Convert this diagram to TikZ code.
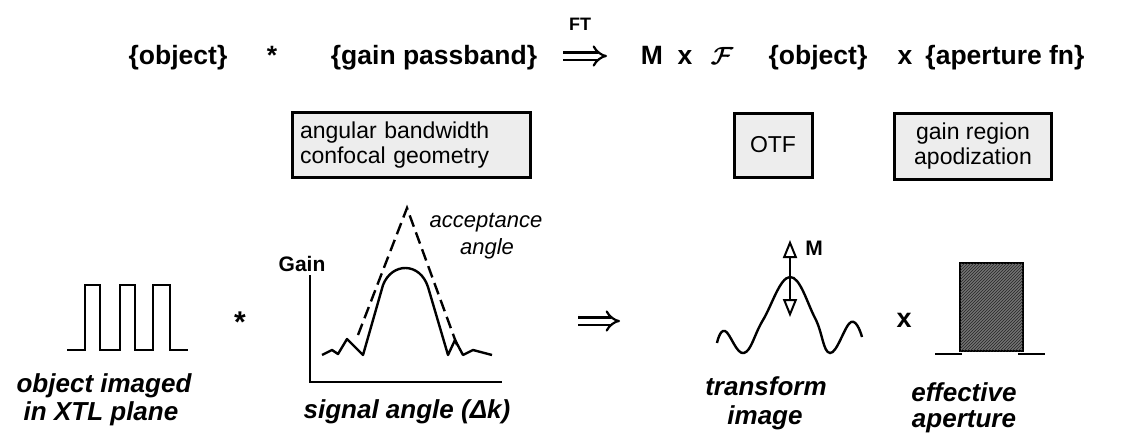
\documentclass[tikz,border=0pt]{standalone}
\usepackage{fontspec}
\setmainfont{Liberation Sans}
\usetikzlibrary{arrows.meta,patterns}
\begin{document}
\begin{tikzpicture}[x=1pt, y=-1pt, line width=2.4pt,
        eqtext/.style={anchor=base, inner sep=0pt, font=\fontsize{26.5}{30}\selectfont\bfseries},
        infobox/.style={draw, line width=3pt, fill=black!7, inner sep=0pt, align=center, font=\fontsize{23}{25}\selectfont},
        caption/.style={anchor=base, inner sep=0pt, font=\fontsize{26}{28}\selectfont\bfseries\itshape},
        implies/.style={line width=2.2pt, double distance=5pt, -{Implies}},
        openhead/.style={{Triangle[open,length=18pt,width=14pt]}-{Triangle[open,length=18pt,width=14pt]}}]
        \useasboundingbox (0,0) rectangle (1124,439);
        \node[eqtext] (obj1) at (178,64) {\{object\}};
        \node[eqtext] (conv1) at (272,64) {*};
        \node[eqtext] (pass) at (434,64) {\{gain passband\}};
        \node[eqtext, font=\fontsize{18}{20}\selectfont\bfseries] (ft) at (580,30) {FT};
        \coordinate (impa) at (563,56);
        \coordinate (impb) at (607,56);
        \draw[implies] (impa) -- (impb);
        \node[eqtext] (mag) at (652,64) {M};
        \node[eqtext] (times1) at (685,64) {x};
        \node[eqtext, font=\fontsize{33}{35}\selectfont\boldmath] (four) at (722,64) {$\mathcal{F}$};
        \node[eqtext] (obj2) at (818,64) {\{object\}};
        \node[eqtext] (times2) at (905,64) {x};
        \node[eqtext] (apfn) at (1005,64) {\{aperture fn\}};
        \node[infobox, text width=222pt, align=left, inner xsep=8pt, minimum height=65pt] (bw) at (411,145) {angular bandwidth\\confocal geometry};
        \node[infobox, minimum width=78pt, minimum height=64pt] (otf) at (773,145) {OTF};
        \node[infobox, minimum width=157pt, minimum height=66pt] (apod) at (973,146) {gain region\\apodization};
        \draw[line join=miter] (67,350) -- (85,350) -- (85,285) -- (100,285) -- (100,350) -- (120,350) -- (120,285) -- (135,285) -- (135,350) -- (153,350) -- (153,285) -- (170,285) -- (170,350) -- (188,350);
        \node[caption] (objcap1) at (104,392) {object imaged};
        \node[caption] (objcap2) at (101,420) {in XTL plane};
        \node[inner sep=0pt, font=\fontsize{30}{30}\selectfont\bfseries] (conv2) at (240,322) {*};
        \draw (310,275) -- (310,382) -- (502,382);
        \node[anchor=base, inner sep=0pt, font=\fontsize{21}{24}\selectfont\bfseries] (gainlbl) at (302,271) {Gain};
        \draw[dash pattern=on 12pt off 6pt] (358,335) -- (407,208) -- (457,345);
        \draw[line join=round] (322,355) -- (332,350) -- (338,354) -- (347,339) -- (363,355) -- (383,285) .. controls (392,262) and (420,262) .. (428,287) -- (448,355) -- (455,340) -- (463,355) -- (473,350) -- (492,355);
        \node[anchor=base, inner sep=0pt, font=\fontsize{22}{24}\selectfont\itshape] (acc1) at (486,227) {acceptance};
        \node[anchor=base, inner sep=0pt, font=\fontsize{22}{24}\selectfont\itshape] (acc2) at (487,254) {angle};
        \node[caption] (sigcap) at (407,418) {signal angle (Δk)};
        \coordinate (imp2a) at (578,321);
        \coordinate (imp2b) at (620,321);
        \draw[implies] (imp2a) -- (imp2b);
        \draw plot[smooth, tension=0.7] coordinates {(717,343) (725,331) (744,353) (763,320) (790,277) (815,318) (830,353) (851,322) (862,337)};
        \coordinate (mlo) at (790,317);
        \coordinate (mhi) at (790,240);
        \draw[openhead, line width=2pt] (mlo) -- (mhi);
        \node[anchor=base, inner sep=0pt, font=\fontsize{21}{24}\selectfont\bfseries] (mlbl) at (814,255) {M};
        \node[caption] (trcap1) at (766,395) {transform};
        \node[caption] (trcap2) at (765,424) {image};
        \node[inner sep=0pt, font=\fontsize{27}{30}\selectfont\bfseries] (times3) at (904,320) {x};
        \draw (935,354) -- (962,354);
        \draw (1018,354) -- (1045,354);
        \filldraw[fill=black!55, line width=1.5pt] (960,263) rectangle (1023,351);
        \fill[pattern=north east lines, pattern color=black!85] (960,263) rectangle (1023,351);
        \node[caption] (efcap1) at (964,401) {effective};
        \node[caption] (efcap2) at (964,427) {aperture};
    \end{tikzpicture}
\end{document}
